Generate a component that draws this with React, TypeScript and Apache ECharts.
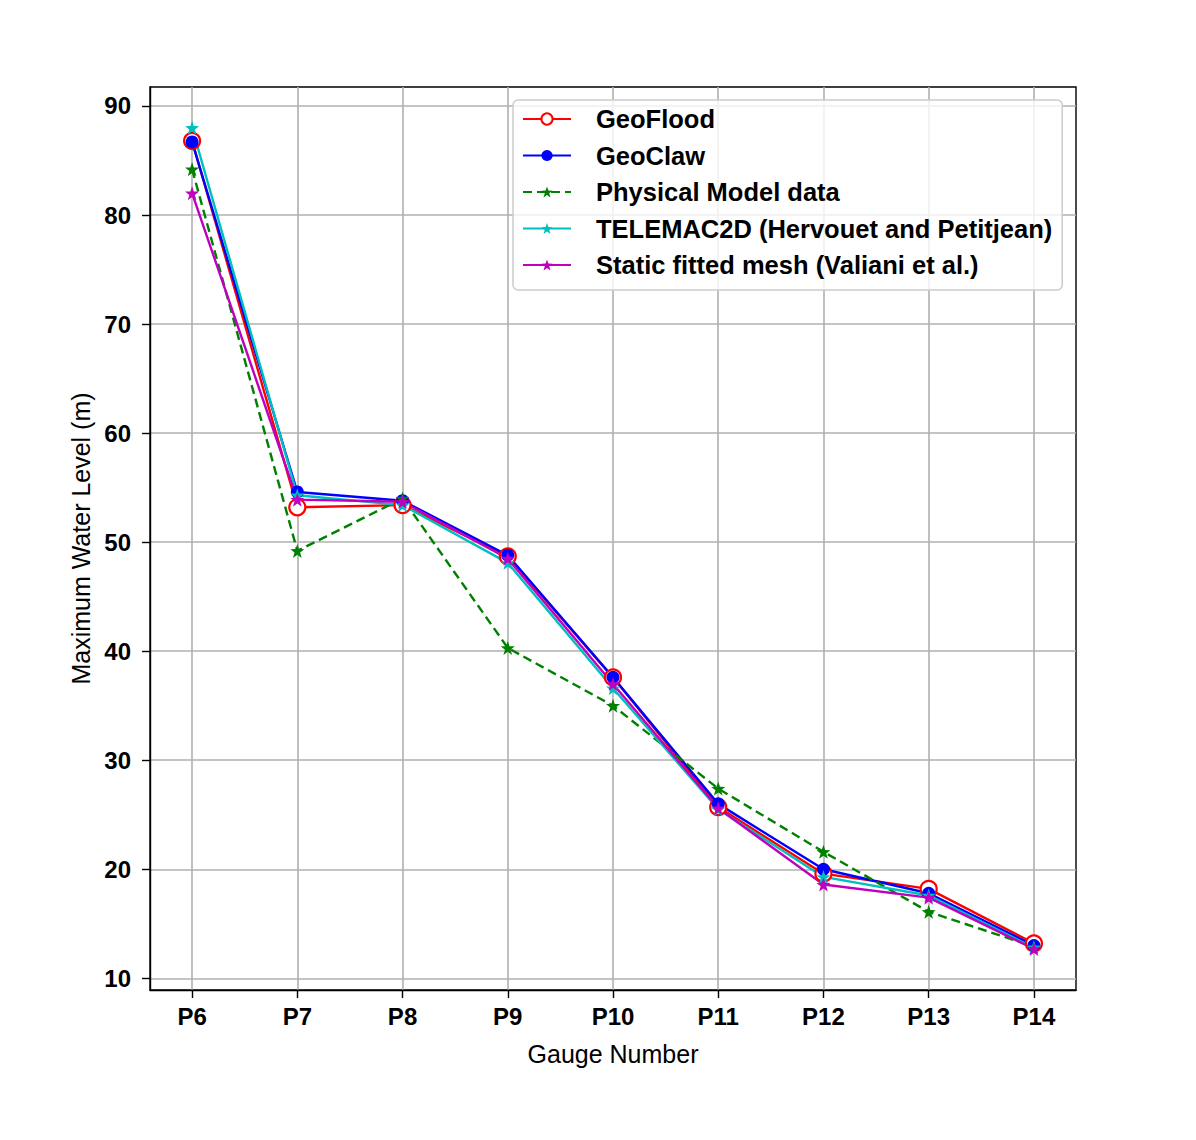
import React, { useEffect, useRef } from "react";
import * as echarts from "echarts";

const categories = ["P6", "P7", "P8", "P9", "P10", "P11", "P12", "P13", "P14"];
const geoFlood = [86.8, 53.2, 53.4, 48.7, 37.6, 25.7, 19.6, 18.2, 13.2];
const geoClaw = [86.7, 54.6, 53.8, 48.8, 37.6, 26.0, 20.0, 17.8, 13.0];
const physical = [84.2, 49.2, 54.0, 40.3, 35.0, 27.4, 21.6, 16.1, 12.9];
const telemac = [88.0, 54.3, 53.4, 48.1, 36.6, 25.5, 19.3, 17.6, 12.8];
const staticMesh = [82.0, 53.9, 53.7, 48.5, 37.0, 25.6, 18.6, 17.4, 12.7];
const yTicks = [10, 20, 30, 40, 50, 60, 70, 80, 90];

const STAR =
  "path://M0,-10 L2.35,-3.24 L9.51,-3.09 L3.8,1.24 L5.88,8.09 L0,4 L-5.88,8.09 L-3.8,1.24 L-9.51,-3.09 L-2.35,-3.24 Z";
const FONT = "Liberation Sans, Arial, Helvetica, sans-serif";

const toPairs = (arr: number[]) => arr.map((v, i) => [i, v]);

export default function App() {
  const ref = useRef<HTMLDivElement>(null);
  useEffect(() => {
    if (!ref.current) return;
    const chart = echarts.init(ref.current, null, { renderer: "svg" });
    const xIdx = categories.map((_, i) => i);
    const mk = (
      name: string,
      data: number[],
      color: string,
      symbol: string,
      size: number,
      filled: boolean,
      dashed = false
    ) => ({
      name,
      type: "line",
      data: toPairs(data),
      symbol,
      symbolSize: size,
      showAllSymbol: true,
      lineStyle: { color, width: 2.4, type: dashed ? [9, 5] : "solid" },
      itemStyle: {
        color: filled ? color : "#ffffff",
        borderColor: color,
        borderWidth: filled ? 0 : 2.2,
        opacity: 1,
      },
      emphasis: { disabled: true },
    });
    chart.setOption({
      animation: false,
      backgroundColor: "#ffffff",
      grid: {
        left: 150,
        right: 120,
        top: 87,
        bottom: 150,
        show: true,
        borderColor: "#000",
        borderWidth: 1.4,
        backgroundColor: "transparent",
      },
      xAxis: {
        type: "value",
        min: -0.4,
        max: 8.4,
        name: "Gauge Number",
        nameLocation: "middle",
        nameGap: 51,
        nameTextStyle: { fontSize: 25, color: "#000", fontFamily: FONT },
        axisLine: { show: true, onZero: false, lineStyle: { color: "#000", width: 1.4 } },
        axisTick: {
          show: true,
          length: 8,
          customValues: xIdx,
          lineStyle: { color: "#000", width: 1.4 },
        },
        axisLabel: {
          customValues: xIdx,
          formatter: (v: number) => categories[Math.round(v)] ?? "",
          fontSize: 24,
          fontWeight: "bold",
          color: "#000",
          fontFamily: FONT,
          margin: 14,
        },
        splitLine: { show: true, lineStyle: { color: "#b0b0b0", width: 1.6 } },
      },
      yAxis: {
        type: "value",
        min: 8.93,
        max: 91.74,
        name: "Maximum Water Level (m)",
        nameLocation: "middle",
        nameGap: 55,
        nameTextStyle: { fontSize: 25, color: "#000", fontFamily: FONT },
        axisLine: { show: true, onZero: false, lineStyle: { color: "#000", width: 1.4 } },
        axisTick: {
          show: true,
          length: 8,
          customValues: yTicks,
          lineStyle: { color: "#000", width: 1.4 },
        },
        axisLabel: {
          customValues: yTicks,
          fontSize: 24,
          fontWeight: "bold",
          color: "#000",
          fontFamily: FONT,
          margin: 19,
        },
        splitLine: { show: true, lineStyle: { color: "#b0b0b0", width: 1.6 } },
      },
      legend: {
        orient: "vertical",
        left: 513,
        top: 100,
        padding: [6, 10, 12, 9],
        itemWidth: 48,
        itemHeight: 14,
        itemGap: 10.5,
        backgroundColor: "rgba(255,255,255,0.8)",
        borderColor: "#cccccc",
        borderWidth: 1.5,
        borderRadius: 5,
        textStyle: {
          fontSize: 25.5,
          lineHeight: 26,
          fontWeight: "bold",
          color: "#000",
          fontFamily: FONT,
          padding: [0, 0, 0, 20],
        },
        selectedMode: false,
      },
      series: [
        mk("GeoFlood", geoFlood, "#ff0000", "circle", 16, false),
        mk("GeoClaw", geoClaw, "#0000ff", "circle", 13, true),
        mk("Physical Model data", physical, "#008000", STAR, 14, true, true),
        mk("TELEMAC2D (Hervouet and Petitjean)", telemac, "#00bfbf", STAR, 14, true),
        mk("Static fitted mesh (Valiani et al.)", staticMesh, "#bf00bf", STAR, 14, true),
      ],
    });
    return () => chart.dispose();
  }, []);
  return (
    <div
      ref={ref}
      style={{ position: "fixed", left: 0, top: 0, width: 1196, height: 1140, background: "#fff" }}
    />
  );
}
